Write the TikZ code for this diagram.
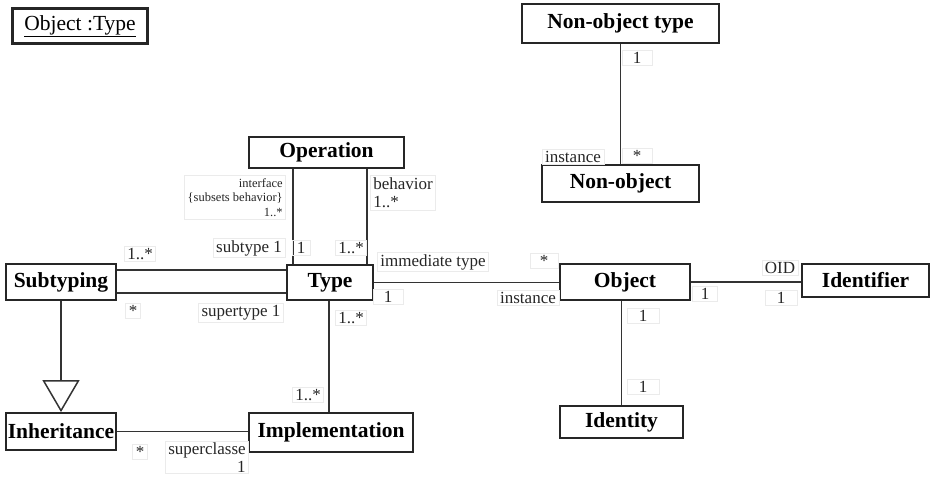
\documentclass[tikz,border=0pt]{standalone}
\usepackage{fontspec}
\setmainfont{Liberation Serif}
\usetikzlibrary{arrows.meta}
\begin{document}
\begin{tikzpicture}[x=1pt,y=-1pt,
  cls/.style={draw=black!85,line width=1.8pt,fill=white,inner sep=0pt,
    font=\fontsize{21.5}{24}\selectfont\bfseries},
  assoc/.style={draw=black!80,line width=1.5pt},
  lbl/.style={draw=black!8,line width=0.6pt,inner xsep=3pt,inner ysep=2pt,
    font=\fontsize{17}{18.5}\selectfont,text=black!85},
  small/.style={draw=black!8,line width=0.6pt,inner sep=3pt,
    font=\fontsize{12.5}{14.5}\selectfont,text=black!85}]
\useasboundingbox (0,0) rectangle (935,480);

% diagram frame title with a double border
\node[draw=black!85,line width=1.4pt,minimum width=136pt,minimum height=36pt,
  inner sep=0pt,font=\fontsize{21.5}{24}\selectfont] (otype) at (80,26) {\underline{Object :Type}};
\draw[black!85,line width=0.7pt] ([shift={(2.5pt,2.5pt)}]otype.south west)
  rectangle ([shift={(-2.5pt,-2.5pt)}]otype.north east);

% classes
\node[cls,minimum width=197pt,minimum height=39pt] (nonobjtype) at (620.5,23.5) {Non-object type};
\node[cls,minimum width=157pt,minimum height=37pt] (nonobj) at (620.5,183.5) {Non-object};
\node[cls,minimum width=155pt,minimum height=31pt] (operation) at (326.5,152.5) {Operation};
\node[cls,minimum width=110pt,minimum height=36pt] (subtyping) at (61,282) {Subtyping};
\node[cls,minimum width=86pt,minimum height=35pt] (type) at (330,282.5) {Type};
\node[cls,minimum width=130pt,minimum height=36pt] (object) at (625,282) {Object};
\node[cls,minimum width=127pt,minimum height=33pt] (identifier) at (865.5,280.5) {Identifier};
\node[cls,minimum width=110pt,minimum height=37pt] (inheritance) at (61,431.5) {Inheritance};
\node[cls,minimum width=164pt,minimum height=39pt] (implementation) at (331,432.5) {Implementation};
\node[cls,minimum width=123pt,minimum height=32pt] (identity) at (621.5,422) {Identity};

% associations
\draw[assoc] (nonobjtype.south) -- (nonobj.north);
\draw[assoc] ([xshift=-33.5pt]operation.south) -- ([xshift=-33.5pt]operation.south |- type.north);
\draw[assoc] ([xshift=40.5pt]operation.south) -- ([xshift=40.5pt]operation.south |- type.north);
\draw[assoc] ([yshift=12pt]subtyping.east) -- ([yshift=12pt]subtyping.east -| type.west);
\draw[assoc] ([yshift=-11pt]subtyping.east) -- ([yshift=-11pt]subtyping.east -| type.west);
\draw[assoc] (type.east) -- (type.east -| object.west);
\draw[assoc] (object.east) -- (object.east -| identifier.west);
\draw[assoc] (identity.north) -- (identity.north |- object.south);
\draw[assoc] ([xshift=-1pt]type.south) -- ([xshift=-1pt]type.south |- implementation.north);
\draw[assoc] (inheritance.east) -- (inheritance.east -| implementation.west);
% generalization
\draw[assoc,-{Triangle[open,length=32pt,width=37pt,line width=1.5pt]}]
  (subtyping.south) -- (inheritance.north);

% role names and multiplicities
\node[lbl,minimum width=30pt] (m1) at (637,57.5) {1};
\node[lbl,minimum width=30pt] (m2) at (637,155.5) {*};
\node[lbl] (m3) at (573,157) {instance};
\node[small,anchor=north east,align=right] (m4) at (286,175) {interface\\\{subsets behavior\}\\1..*};
\node[lbl,anchor=north west,align=left] (m5) at (370,175) {behavior\\1..*};
\node[lbl] (m6) at (249,248) {subtype 1};
\node[lbl,minimum width=18pt] (m7) at (301,248) {1};
\node[lbl] (m8) at (351,248) {1..*};
\node[lbl] (m9) at (433,262) {immediate type};
\node[lbl] (m10) at (140,254) {1..*};
\node[lbl] (m11) at (133,311) {*};
\node[lbl] (m12) at (241,313) {supertype 1};
\node[lbl,minimum width=30pt] (m13) at (388,297) {1};
\node[lbl] (m14) at (351,318) {1..*};
\node[lbl] (m15) at (308,395) {1..*};
\node[lbl] (m16) at (140,452) {*};
\node[lbl,anchor=north east,align=right,inner ysep=1pt] (m17) at (249,441) {superclasse\\1};
\node[lbl,minimum width=28pt] (m18) at (544,261) {*};
\node[lbl] (m19) at (528,298) {instance};
\node[lbl,minimum width=32pt] (m20) at (643,316) {1};
\node[lbl,minimum width=32pt] (m21) at (643,387) {1};
\node[lbl,minimum width=25pt] (m22) at (705,294) {1};
\node[lbl] (m23) at (780,268) {OID};
\node[lbl,minimum width=32pt] (m24) at (781,298) {1};
\end{tikzpicture}
\end{document}
